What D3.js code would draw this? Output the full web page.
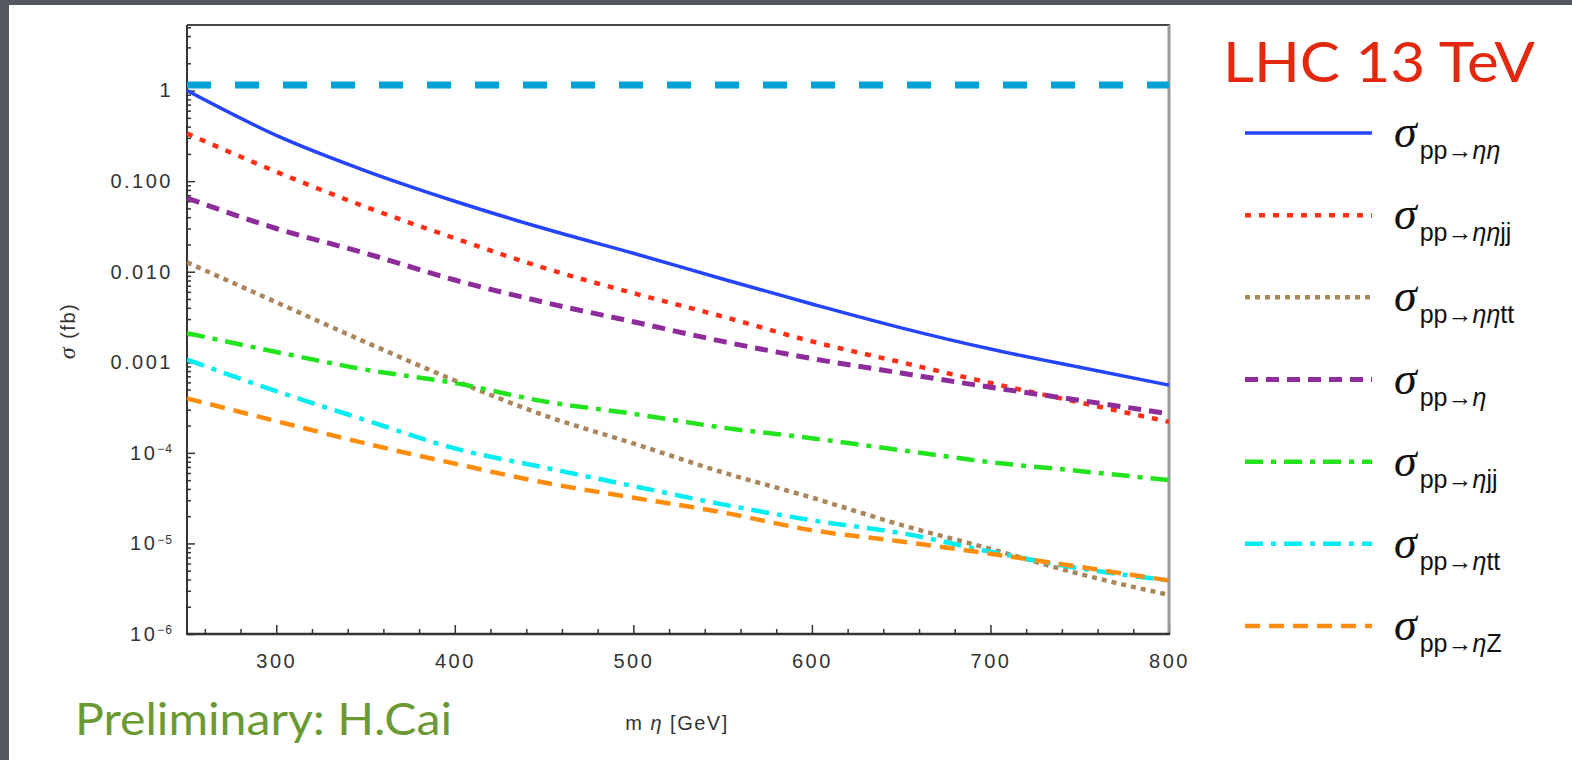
<!DOCTYPE html>
<meta charset="utf-8">
<title>LHC 13 TeV cross sections</title>
<style>
  html, body { margin: 0; padding: 0; background: #55575e; }
  svg { display: block; }
  .tick text { font-family: "Liberation Sans", Arial, sans-serif; font-size: 20px; letter-spacing: 2.5px; fill: #333; }
  .tick line { stroke: #333; stroke-width: 1.5px; }
  .series { fill: none; }
</style>
<body>
<script src="https://d3js.org/d3.v7.min.js"></script>
<script>

// masses (GeV)
var mass = [250, 300, 350, 400, 450, 500, 550, 600, 650, 700, 750, 800];

// cross sections (fb)
var sigEtaEta   = [1.0, 0.32, 0.13, 0.060, 0.030, 0.016, 0.0083, 0.0044, 0.0024, 0.0014, 0.00088, 0.00056];
var sigEtaEtaJJ = [0.336, 0.127, 0.052, 0.0234, 0.011, 0.0058, 0.0032, 0.0017, 0.0010, 0.00059, 0.00036, 0.00022];
var sigEtaEtaTT = [0.0127, 0.0046, 0.00167, 0.00063, 0.00026, 0.000127, 6.1e-5, 3.2e-5, 1.6e-5, 8.7e-6, 4.6e-6, 2.7e-6];
var sigEta      = [0.065, 0.030, 0.016, 0.0081, 0.0046, 0.0028, 0.0017, 0.0011, 0.00076, 0.00053, 0.00038, 0.00027];
var sigEtaJJ    = [0.0021, 0.0013, 0.00083, 0.00059, 0.00037, 0.00027, 0.00019, 0.000145, 0.000107, 7.9e-5, 6.3e-5, 5.0e-5];
var sigEtaTT    = [0.00107, 0.00048, 0.00023, 0.000112, 6.9e-5, 4.3e-5, 2.7e-5, 1.8e-5, 1.3e-5, 8.1e-6, 5.3e-6, 3.9e-6];
var sigEtaZ     = [0.0004, 0.000224, 0.000127, 7.6e-5, 4.7e-5, 3.2e-5, 2.2e-5, 1.4e-5, 1.05e-5, 7.7e-6, 5.5e-6, 3.9e-6];

// horizontal reference level
var refLevel = 1.15;

// legend subscripts: [plain part, italic part, plain tail]
var legendSubs = [
  ["pp\u2192", "\u03b7\u03b7", ""],
  ["pp\u2192", "\u03b7\u03b7", "jj"],
  ["pp\u2192", "\u03b7\u03b7", "tt"],
  ["pp\u2192", "\u03b7", ""],
  ["pp\u2192", "\u03b7", "jj"],
  ["pp\u2192", "\u03b7", "tt"],
  ["pp\u2192", "\u03b7", "Z"]
];

var xTicks = [300, 400, 500, 600, 700, 800];
var yTicks = [1e-6, 1e-5, 1e-4, 1e-3, 1e-2, 1e-1, 1];
var yTickLabels = [["10", "\u22126"], ["10", "\u22125"], ["10", "\u22124"], ["0.001"], ["0.010"], ["0.100"], ["1"]];

// line styles per series
var styles = [
  {color: "#2444ff", width: 3.5, dash: null},
  {color: "#ff2e17", width: 4.5, dash: "6,8"},
  {color: "#a9865c", width: 4.5, dash: "5,5"},
  {color: "#8e2c9c", width: 5, dash: "13,8"},
  {color: "#22e41c", width: 4.5, dash: "18,8,5,8"},
  {color: "#00eef0", width: 4.5, dash: "18,8,5,8"},
  {color: "#ff8c0a", width: 4.5, dash: "15,9"}
];

var series = [sigEtaEta, sigEtaEtaJJ, sigEtaEtaTT, sigEta, sigEtaJJ, sigEtaTT, sigEtaZ];

var W = 1572, H = 760;
var plot = {left: 187, right: 1169, top: 25, bottom: 634};

var svg = d3.select("body").append("svg")
    .attr("width", W)
    .attr("height", H);

// slide background
svg.append("rect").attr("width", W).attr("height", H).attr("fill", "#55575e");
svg.append("rect").attr("x", 9).attr("y", 5).attr("width", W - 9).attr("height", H - 5).attr("fill", "#fff");

var x = d3.scaleLinear().domain([250, 800]).range([plot.left, plot.right]);
var y = d3.scaleLog().domain([1e-6, Math.pow(10, 0.724)]).range([plot.bottom, plot.top]);

// clip so the curves stay inside the frame
svg.append("clipPath").attr("id", "clip")
  .append("rect")
    .attr("x", plot.left).attr("y", plot.top)
    .attr("width", plot.right - plot.left).attr("height", plot.bottom - plot.top);

// minor y ticks
var minorY = y.ticks().filter(function(v) {
  var e = Math.log10(v);
  return Math.abs(e - Math.round(e)) > 1e-6;
});
svg.append("g")
    .attr("transform", "translate(" + plot.left + ",0)")
    .call(d3.axisLeft(y).tickValues(minorY).tickSize(-4).tickFormat(""))
    .call(function(g) { g.select(".domain").remove(); });

// major y ticks with labels
var yAxis = svg.append("g")
    .attr("transform", "translate(" + plot.left + ",0)")
    .call(d3.axisLeft(y).tickValues(yTicks).tickSize(-8).tickPadding(14).tickFormat(""))
    .call(function(g) { g.select(".domain").remove(); });

yAxis.selectAll(".tick text").each(function(d) {
  var t = d3.select(this);
  var lab = yTickLabels[yTicks.indexOf(d)];
  t.append("tspan").text(lab[0]);
  if (lab.length > 1) {
    t.append("tspan").attr("dy", "-0.55em").attr("font-size", "12px").attr("letter-spacing", "1px").text(lab[1]);
  }
});

// minor x ticks
svg.append("g")
    .attr("transform", "translate(0," + plot.bottom + ")")
    .call(d3.axisBottom(x).tickValues(d3.range(260, 800, 20).filter(function(v) { return v % 100 !== 0; }))
      .tickSize(-5).tickFormat(""))
    .call(function(g) { g.select(".domain").remove(); });

// major x ticks
svg.append("g")
    .attr("transform", "translate(0," + plot.bottom + ")")
    .call(d3.axisBottom(x).tickValues(xTicks).tickSize(-9).tickPadding(20).tickFormat(d3.format("d")))
    .call(function(g) { g.select(".domain").remove(); });

// frame
svg.append("line").attr("x1", plot.left).attr("x2", plot.right + 1)
    .attr("y1", plot.top).attr("y2", plot.top).attr("stroke", "#444").attr("stroke-width", 2);
svg.append("line").attr("x1", plot.right).attr("x2", plot.right)
    .attr("y1", plot.top).attr("y2", plot.bottom).attr("stroke", "#999").attr("stroke-width", 3);
svg.append("line").attr("x1", plot.left).attr("x2", plot.left)
    .attr("y1", plot.top).attr("y2", plot.bottom + 1).attr("stroke", "#333").attr("stroke-width", 2);
svg.append("line").attr("x1", plot.left).attr("x2", plot.right + 1)
    .attr("y1", plot.bottom).attr("y2", plot.bottom).attr("stroke", "#333").attr("stroke-width", 2.5);

// reference level
svg.append("line")
    .attr("x1", x(250)).attr("x2", x(800))
    .attr("y1", y(refLevel)).attr("y2", y(refLevel))
    .attr("stroke", "#00a2d6").attr("stroke-width", 7).attr("stroke-dasharray", "24,24");

// curves
var line = d3.line()
    .x(function(d) { return x(d[0]); })
    .y(function(d) { return y(d[1]); })
    .curve(d3.curveMonotoneX);

series.forEach(function(s, i) {
  var pts = mass.map(function(m, j) { return [m, s[j]]; });
  svg.append("path")
      .datum(pts)
      .attr("class", "series")
      .attr("clip-path", "url(#clip)")
      .attr("stroke", styles[i].color)
      .attr("stroke-width", styles[i].width)
      .attr("stroke-dasharray", styles[i].dash)
      .attr("d", line);
});

// axis titles
var yt = svg.append("text")
    .attr("transform", "translate(75,331) rotate(-90)")
    .attr("text-anchor", "middle")
    .attr("font-family", "Liberation Sans, Arial, sans-serif")
    .attr("font-size", 20).attr("letter-spacing", 1.5).attr("fill", "#333");
yt.append("tspan").attr("font-style", "italic").attr("font-family", "Liberation Serif, serif").attr("font-size", 24).text("\u03c3");
yt.append("tspan").text(" (fb)");

var xt = svg.append("text")
    .attr("x", 677).attr("y", 730)
    .attr("text-anchor", "middle")
    .attr("font-family", "Liberation Sans, Arial, sans-serif")
    .attr("font-size", 20).attr("letter-spacing", 1.5).attr("fill", "#333");
xt.append("tspan").text("m ");
xt.append("tspan").attr("font-style", "italic").text("\u03b7");
xt.append("tspan").text(" [GeV]");

// title and credit
svg.append("text")
    .attr("x", 1223).attr("y", 82)
    .attr("textLength", 312).attr("lengthAdjust", "spacingAndGlyphs")
    .attr("font-family", "Comic Sans MS, Lato, sans-serif")
    .attr("font-size", 56).attr("fill", "#e2290f")
    .text("LHC 13 TeV");

svg.append("text")
    .attr("x", 75).attr("y", 735)
    .attr("textLength", 377).attr("lengthAdjust", "spacingAndGlyphs")
    .attr("font-family", "Comic Sans MS, Lato, sans-serif")
    .attr("font-size", 44).attr("fill", "#6b9a35")
    .text("Preliminary: H.Cai");

// legend
var legendY = d3.scaleLinear().domain([0, 6]).range([133, 626]);
var leg = svg.append("g");
styles.forEach(function(st, i) {
  var ly = legendY(i);
  leg.append("line")
      .attr("x1", 1245).attr("x2", 1372)
      .attr("y1", ly).attr("y2", ly)
      .attr("stroke", st.color).attr("stroke-width", st.width)
      .attr("stroke-dasharray", st.dash);
  var t = leg.append("text")
      .attr("x", 1394).attr("y", ly + 14)
      .attr("fill", "#111");
  t.append("tspan")
      .attr("font-family", "Liberation Serif, serif")
      .attr("font-style", "italic")
      .attr("font-size", 46)
      .text("\u03c3");
  var sub = legendSubs[i];
  t.append("tspan").attr("dy", 12).attr("dx", 3)
      .attr("font-family", "Liberation Sans, Arial, sans-serif").attr("font-size", 25).text(sub[0]);
  t.append("tspan")
      .attr("font-family", "Liberation Sans, Arial, sans-serif").attr("font-style", "italic").attr("font-size", 25).text(sub[1]);
  if (sub[2]) {
    t.append("tspan")
        .attr("font-family", "Liberation Sans, Arial, sans-serif").attr("font-size", 25).text(sub[2]);
  }
});

</script>
</body>
